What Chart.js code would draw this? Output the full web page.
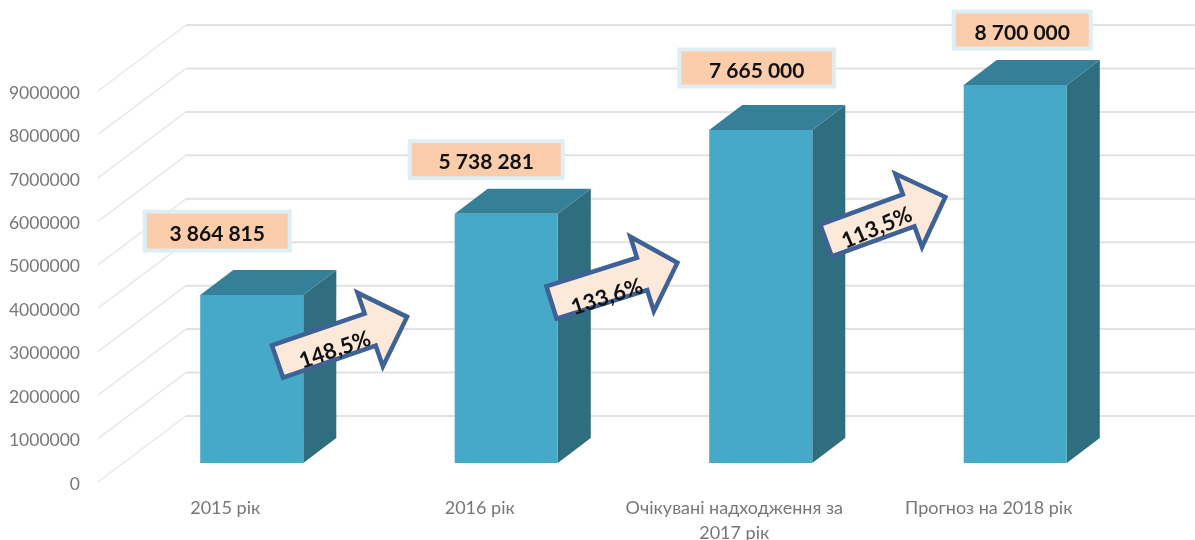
<!DOCTYPE html>
<html>
<head>
<meta charset="utf-8">
<title>Надходження</title>
<script src="https://cdn.jsdelivr.net/npm/chart.js@4"></script>
<style>
  html, body { margin: 0; padding: 0; background: #fff; }
  canvas { display: block; filter: blur(0.6px); }
</style>
</head>
<body>
<canvas id="myChart" width="1195" height="540"></canvas>
<script>
const categories = ['2015 рік', '2016 рік', ['Очікувані надходження за', '2017 рік'], 'Прогноз на 2018 рік'];
const revenue = [3864815, 5738281, 7665000, 8700000];
const revenueLabels = ['3 864 815', '5 738 281', '7 665 000', '8 700 000'];
const growthLabels = ['148,5%', '133,6%', '113,5%'];

const font = 'Lato, "Noto Sans", sans-serif';

// 3d look: the floor goes back by this much, the bars stand in the middle of it
const wallDepth = { x: 88, y: -66 };
const barShift = { x: 26.5, y: -19 };
const barDepth = { x: 33, y: -25 };

// callout boxes, centre relative to the top of each bar
const boxes = [
  { dx: -8, dy: -83, w: 149, h: 43 },
  { dx: 6.5, dy: -73, w: 157, h: 41 },
  { dx: 22.5, dy: -81, w: 159, h: 41 },
  { dx: 33.5, dy: -74, w: 141, h: 41 }
];

const arrows = [
  { x: 277.5, y: 361.5, len: 137, angle: -19, headL: 39, textX: 335, textY: 350, textAngle: -19 },
  { x: 551.5, y: 302.5, len: 132, angle: -17.5, headL: 37, textX: 607, textY: 297, textAngle: -18 },
  { x: 826, y: 240.5, len: 127, angle: -20, headL: 39, textX: 877, textY: 228, textAngle: -23 }
];

const wallPlugin = {
  id: 'wall',
  beforeDatasetsDraw(chart) {
    const ctx = chart.ctx;
    const y = chart.scales.y;
    const left = chart.chartArea.left;
    ctx.save();
    y.ticks.forEach(t => {
      const py = y.getPixelForValue(t.value);
      ctx.strokeStyle = '#e8e8e8';
      ctx.lineWidth = 1.5;
      ctx.beginPath();
      ctx.moveTo(left, py);
      ctx.lineTo(left + wallDepth.x, py + wallDepth.y);
      ctx.stroke();
      ctx.strokeStyle = '#e2e2e2';
      ctx.lineWidth = 2;
      ctx.beginPath();
      ctx.moveTo(left + wallDepth.x, py + wallDepth.y);
      ctx.lineTo(chart.width, py + wallDepth.y);
      ctx.stroke();
    });
    ctx.restore();
  },
  beforeDatasetDraw(chart, args) {
    const ctx = chart.ctx;
    ctx.save();
    ctx.translate(barShift.x, barShift.y);
    // side and top faces first, the bar element itself is the front face
    args.meta.data.forEach(bar => {
      const l = bar.x - bar.width / 2;
      const r = bar.x + bar.width / 2;
      ctx.fillStyle = '#2f6e7f';
      ctx.beginPath();
      ctx.moveTo(r, bar.y);
      ctx.lineTo(r + barDepth.x, bar.y + barDepth.y);
      ctx.lineTo(r + barDepth.x, bar.base + barDepth.y);
      ctx.lineTo(r, bar.base);
      ctx.closePath();
      ctx.fill();
      ctx.fillStyle = '#367f99';
      ctx.beginPath();
      ctx.moveTo(l, bar.y);
      ctx.lineTo(l + barDepth.x, bar.y + barDepth.y);
      ctx.lineTo(r + barDepth.x, bar.y + barDepth.y);
      ctx.lineTo(r, bar.y);
      ctx.closePath();
      ctx.fill();
    });
  },
  afterDatasetDraw(chart) {
    chart.ctx.restore();
  },
  afterDatasetsDraw(chart) {
    const ctx = chart.ctx;
    const bars = chart.getDatasetMeta(0).data;

    arrows.forEach((a, i) => {
      const shaft = 17;
      const headW = 39;
      ctx.save();
      ctx.translate(a.x, a.y);
      ctx.rotate(a.angle * Math.PI / 180);
      ctx.beginPath();
      ctx.moveTo(0, -shaft);
      ctx.lineTo(a.len - a.headL, -shaft);
      ctx.lineTo(a.len - a.headL, -headW);
      ctx.lineTo(a.len, 0);
      ctx.lineTo(a.len - a.headL, headW);
      ctx.lineTo(a.len - a.headL, shaft);
      ctx.lineTo(0, shaft);
      ctx.closePath();
      ctx.fillStyle = '#fde9d9';
      ctx.fill();
      ctx.strokeStyle = '#3f6296';
      ctx.lineWidth = 4.5;
      ctx.lineJoin = 'miter';
      ctx.stroke();
      ctx.restore();

      ctx.save();
      ctx.translate(a.textX, a.textY);
      ctx.rotate(a.textAngle * Math.PI / 180);
      ctx.font = 'bold 22px ' + font;
      ctx.fillStyle = '#111';
      ctx.textAlign = 'center';
      ctx.textBaseline = 'middle';
      ctx.fillText(growthLabels[i], 0, 0);
      ctx.restore();
    });

    boxes.forEach((b, i) => {
      const cx = bars[i].x + b.dx;
      const cy = bars[i].y + b.dy;
      ctx.fillStyle = '#ddeff4';
      ctx.fillRect(cx - b.w / 2, cy - b.h / 2, b.w, b.h);
      ctx.fillStyle = '#fbcdaa';
      ctx.fillRect(cx - b.w / 2 + 4, cy - b.h / 2 + 4, b.w - 8, b.h - 8);
      ctx.font = 'bold 21px ' + font;
      ctx.fillStyle = '#111';
      ctx.textAlign = 'center';
      ctx.textBaseline = 'middle';
      ctx.fillText(revenueLabels[i], cx, cy + 3);
    });
  }
};

let myChart = document.getElementById('myChart').getContext('2d');
new Chart(myChart, {
  type: 'bar',
  data: {
    labels: categories,
    datasets: [{
      label: 'Надходження',
      data: revenue,
      backgroundColor: '#46a9c7',
      barPercentage: 0.405,
      categoryPercentage: 1,
      clip: false
    }]
  },
  options: {
    responsive: false,
    animation: false,
    layout: { padding: { top: 91, right: 79, left: 0, bottom: 0 } },
    plugins: { legend: { display: false }, tooltip: { enabled: false } },
    scales: {
      x: {
        afterFit: s => { s.height = 58; },
        grid: { display: false, drawTicks: false },
        border: { display: false },
        ticks: {
          autoSkip: false,
          maxRotation: 0,
          padding: 14,
          color: '#777',
          font: { family: font, size: 18, lineHeight: 1.39 }
        }
      },
      y: {
        min: 0,
        max: 9000000,
        afterFit: s => { s.width = 98; },
        grid: { display: false, drawTicks: false },
        border: { display: false },
        ticks: {
          stepSize: 1000000,
          padding: 18,
          labelOffset: 2,
          color: '#777',
          font: { family: font, size: 17.5 },
          callback: v => String(v)
        }
      }
    }
  },
  plugins: [wallPlugin]
});
</script>
</body>
</html>
